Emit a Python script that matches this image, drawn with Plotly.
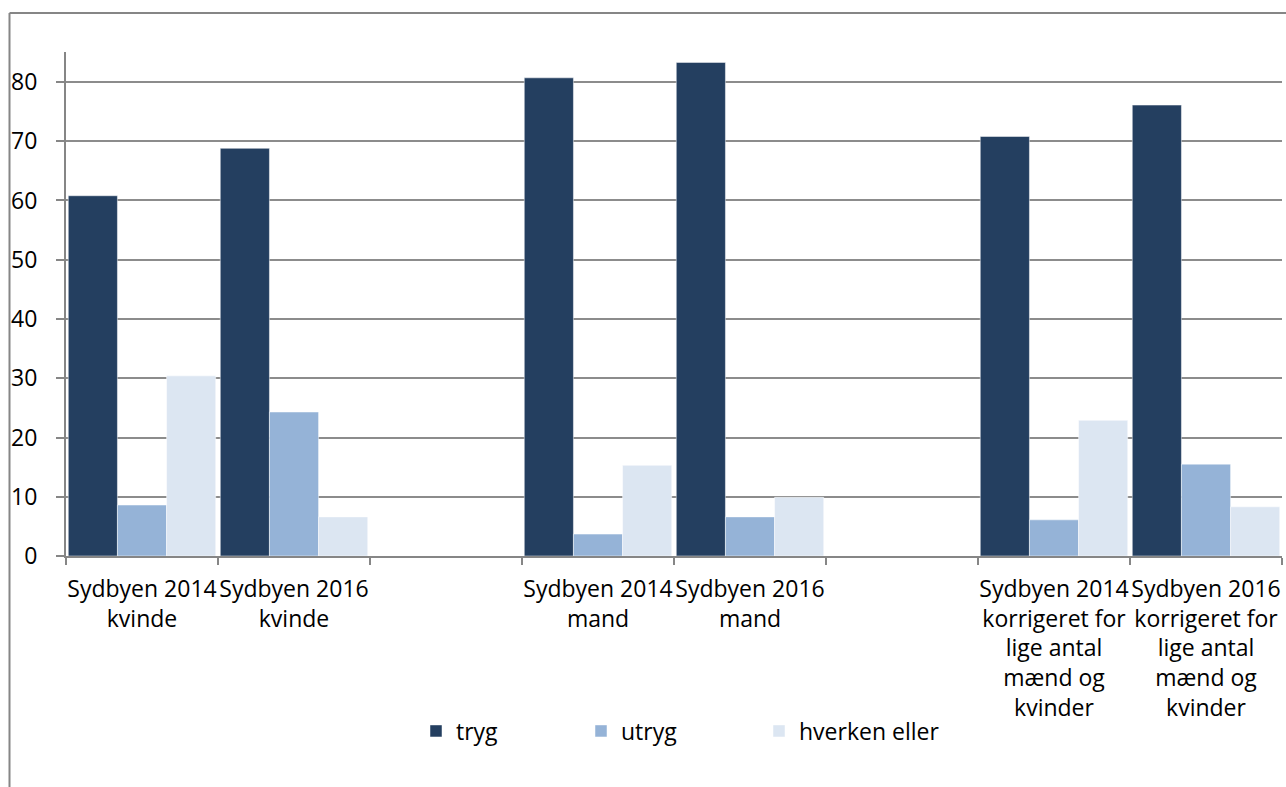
import plotly.graph_objects as go

categories = [
    "Sydbyen 2014<br>kvinde",
    "Sydbyen 2016<br>kvinde",
    " ",
    "Sydbyen 2014<br>mand",
    "Sydbyen 2016<br>mand",
    "  ",
    "Sydbyen 2014<br>korrigeret for<br>lige antal<br>mænd og<br>kvinder",
    "Sydbyen 2016<br>korrigeret for<br>lige antal<br>mænd og<br>kvinder",
]
tryg = [60.8, 68.8, None, 80.7, 83.3, None, 70.8, 76.1]
utryg = [8.6, 24.3, None, 3.7, 6.6, None, 6.1, 15.5]
hverken = [30.4, 6.6, None, 15.3, 9.9, None, 22.9, 8.3]

series_names = ["tryg", "utryg", "hverken eller"]
series_values = [tryg, utryg, hverken]
colors = ["#243F60", "#95B3D7", "#DCE6F2"]
y_ticks = [0, 10, 20, 30, 40, 50, 60, 70, 80]

FONT = "Open Sans"
W, H = 1286, 787
L, R, T, B = 66, 4, 52, 231
plot_w = W - L - R
plot_h = H - T - B

fig = go.Figure()
legend_ids = ["legend", "legend2", "legend3"]
legend_sym_centers = [436, 601, 779]  # pixel centers of legend squares
for name, vals, col, lid in zip(series_names, series_values, colors, legend_ids):
    fig.add_trace(go.Bar(
        x=categories, y=vals, name=name,
        marker=dict(color=col, line=dict(color="rgba(255,255,255,0.6)", width=0.8)),
        legend=lid,
    ))

def px_to_paper_x(px):
    return (px - L) / plot_w

def px_to_paper_y(py):
    return (H - B - py) / plot_h

legend_y = px_to_paper_y(731)
layout_legends = {}
for lid, cx in zip(legend_ids, legend_sym_centers):
    layout_legends[lid] = dict(
        x=px_to_paper_x(cx - 20), xanchor="left",
        y=legend_y, yanchor="middle",
        orientation="h", bgcolor="rgba(0,0,0,0)",
        font=dict(family=FONT, size=23, color="#000000"),
        itemwidth=30,
    )

fig.update_layout(
    width=W, height=H,
    margin=dict(l=L, r=R, t=T, b=B, pad=0, autoexpand=False),
    paper_bgcolor="white", plot_bgcolor="white",
    barmode="group", bargap=0.03, bargroupgap=0,
    font=dict(family=FONT, size=23, color="#000000"),
    showlegend=True,
    **layout_legends,
    xaxis=dict(
        type="category", categoryorder="array", categoryarray=categories,
        tickson="boundaries", ticks="outside", ticklen=7, tickwidth=1.5,
        tickcolor="#868686", showline=True, linecolor="#868686", linewidth=2,
        showgrid=False, ticklabelstandoff=11, tickangle=0, automargin=False,
        tickfont=dict(family=FONT, size=23, color="#000000"),
    ),
    yaxis=dict(
        range=[0, 85.06], tickvals=y_ticks, ticks="outside", ticklen=8,
        tickwidth=1.5, tickcolor="#868686", showline=True, linecolor="#868686",
        linewidth=2, showgrid=True, gridcolor="#8c8c8c", gridwidth=1.5,
        zeroline=False, ticklabelstandoff=14, automargin=False,
        tickfont=dict(family=FONT, size=23, color="#000000"),
    ),
    shapes=[
        dict(type="line", xref="paper", yref="paper",
             x0=px_to_paper_x(9.5), x1=px_to_paper_x(9.5),
             y0=px_to_paper_y(13), y1=px_to_paper_y(800),
             line=dict(color="#868686", width=2)),
        dict(type="line", xref="paper", yref="paper",
             x0=px_to_paper_x(9.5), x1=px_to_paper_x(1300),
             y0=px_to_paper_y(13), y1=px_to_paper_y(13),
             line=dict(color="#868686", width=2)),
    ],
)

fig.write_html(
    "out.html",
    config={"displayModeBar": False},
    post_script="document.body.style.margin='0px';document.body.style.overflow='hidden';",
)
